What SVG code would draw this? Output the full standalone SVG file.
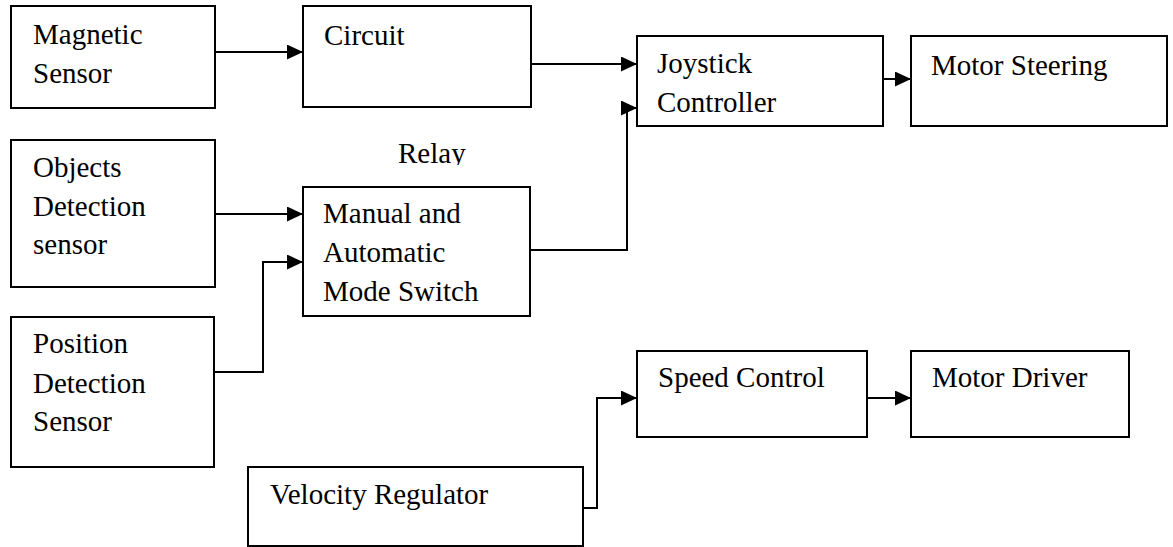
<svg xmlns="http://www.w3.org/2000/svg" width="1173" height="547" viewBox="0 0 1173 547">
<style>
.box{fill:#fff;stroke:#000;stroke-width:2}
.t{font-family:"Liberation Serif","Times New Roman",serif;font-size:29px;fill:#000}
.c{fill:none;stroke:#000;stroke-width:2}
</style>
<defs>
<marker id="ah" markerUnits="userSpaceOnUse" markerWidth="16" markerHeight="15" refX="16" refY="7.5" orient="auto">
<path d="M0,0 L16,7.5 L0,15 z" fill="#000"/>
</marker>
<clipPath id="relayclip"><rect x="380" y="130" width="100" height="35"/></clipPath>
</defs>
<rect width="1173" height="547" fill="#fff"/>
<g id="magnetic"><rect class="box" x="11" y="6" width="204" height="102"/><text class="t" x="33" y="44">Magnetic</text><text class="t" x="33" y="83">Sensor</text></g>
<g id="circuit"><rect class="box" x="303" y="6" width="228" height="101"/><text class="t" x="324" y="45">Circuit</text></g>
<g id="joystick"><rect class="box" x="637" y="36" width="246" height="90"/><text class="t" x="657" y="73">Joystick</text><text class="t" x="657" y="112">Controller</text></g>
<g id="steering"><rect class="box" x="911" y="36" width="256" height="90"/><text class="t" x="931" y="75">Motor Steering</text></g>
<g id="relay"><text class="t" x="398" y="163" clip-path="url(#relayclip)">Relay</text></g>
<g id="objects"><rect class="box" x="11" y="140" width="204" height="147"/><text class="t" x="33" y="177">Objects</text><text class="t" x="33" y="216">Detection</text><text class="t" x="33" y="254">sensor</text></g>
<g id="mode"><rect class="box" x="303" y="187" width="227" height="129"/><text class="t" x="323" y="223">Manual and</text><text class="t" x="323" y="262">Automatic</text><text class="t" x="323" y="301">Mode Switch</text></g>
<g id="position"><rect class="box" x="11" y="317" width="203" height="150"/><text class="t" x="33" y="353">Position</text><text class="t" x="33" y="393">Detection</text><text class="t" x="33" y="431">Sensor</text></g>
<g id="speed"><rect class="box" x="637" y="351" width="230" height="86"/><text class="t" x="658" y="387">Speed Control</text></g>
<g id="driver"><rect class="box" x="911" y="351" width="218" height="86"/><text class="t" x="932" y="387">Motor Driver</text></g>
<g id="velocity"><rect class="box" x="248" y="467" width="335" height="79"/><text class="t" x="270" y="504">Velocity Regulator</text></g>
<g id="connectors">
<path class="c" d="M215,52 H303" marker-end="url(#ah)"/>
<path class="c" d="M531,64 H637" marker-end="url(#ah)"/>
<path class="c" d="M883,79 H911" marker-end="url(#ah)"/>
<path class="c" d="M215,214 H303" marker-end="url(#ah)"/>
<path class="c" d="M214,372 H263 V262 H303" marker-end="url(#ah)"/>
<path class="c" d="M530,250 H627 V108 H637" marker-end="url(#ah)"/>
<path class="c" d="M583,508 H597 V398 H637" marker-end="url(#ah)"/>
<path class="c" d="M867,398 H911" marker-end="url(#ah)"/>
</g>
</svg>
